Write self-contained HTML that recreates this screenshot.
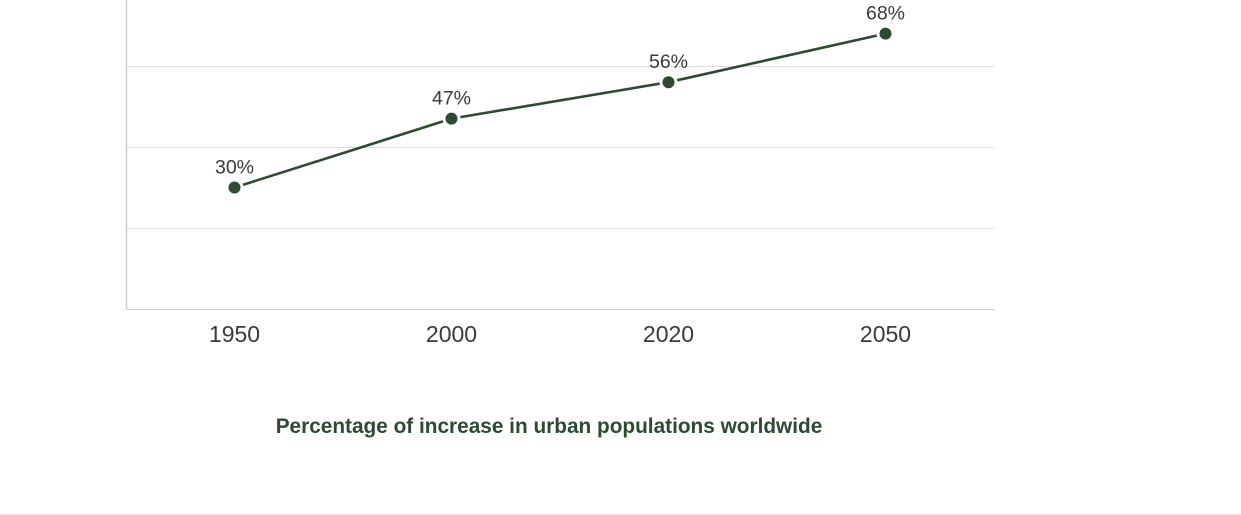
<!DOCTYPE html>
<html><head><meta charset="utf-8"><style>
html,body{margin:0;padding:0;background:#fff;width:1241px;height:515px;overflow:hidden}
svg{display:block;font-family:"Liberation Sans",sans-serif}
</style></head><body>
<svg id="chart" width="1241" height="515" viewBox="0 0 1241 515">
<g id="grid"></g>
<g id="xlabels"></g>
<g id="series"></g>
<text x="549" y="433" text-anchor="middle" font-size="20.8" font-weight="bold" fill="#2e4a33">Percentage of increase in urban populations worldwide</text>
<line x1="0" y1="514.5" x2="1241" y2="514.5" stroke="#e6e6e6" stroke-width="1"/>
</svg>
<script>
const categories = ["1950","2000","2020","2050"];
const values = [30,47,56,68];
const valueLabels = ["30%","47%","56%","68%"];
const gridValues = [0,20,40,60];

const NS="http://www.w3.org/2000/svg";
const left=126,right=994,base=309,pxPerUnit=4.05;
const band=(right-left)/categories.length;
function xScale(i){return left+band*(i+0.5);}
function yScale(v){return base-v*pxPerUnit;}
function mk(tag,attrs,parent){const e=document.createElementNS(NS,tag);for(const k in attrs)e.setAttribute(k,attrs[k]);parent.appendChild(e);return e;}

const grid=document.getElementById('grid');
gridValues.forEach(v=>{
  const l=mk('line',{x1:left,x2:right,y1:yScale(v)+0.5,y2:yScale(v)+0.5,stroke:v===0?'#cfcfcf':'#dedede','stroke-width':1},grid);
  
  
});
const ax=mk('line',{x1:left+0.5,x2:left+0.5,y1:0,y2:base+1,stroke:'#cfcfcf','stroke-width':1.5},grid);



const xl=document.getElementById('xlabels');
categories.forEach((c,i)=>{
  const t=mk('text',{x:xScale(i),y:342,'text-anchor':'middle','font-size':23,fill:'#3a3a3a'},xl);
  t.textContent=c;
  
  
});

const s=document.getElementById('series');
const pts=values.map((v,i)=>xScale(i)+','+yScale(v)).join(' ');
const line=mk('polyline',{points:pts,fill:'none',stroke:'#2e4a33','stroke-width':2.6},s);


values.forEach((v,i)=>{
  const c=mk('circle',{cx:xScale(i),cy:yScale(v),r:7.5,fill:'#2e4a33',stroke:'#fff','stroke-width':3},s);
  
  
  const t=mk('text',{x:xScale(i),y:yScale(v)-14,'text-anchor':'middle','font-size':19.5,fill:'#3a3a3a'},s);
  t.textContent=valueLabels[i];
  
  
});
</script>
</body></html>
